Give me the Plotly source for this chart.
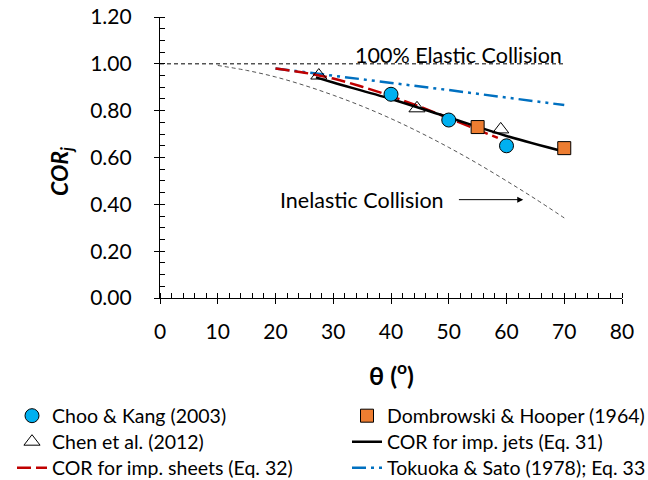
import plotly.graph_objects as go

# ---- data ----
choo_x = [40, 50, 60]
choo_y = [0.87, 0.76, 0.65]

domb_x = [55, 70]
domb_y = [0.73, 0.64]

chen_x = [27.5, 44.5, 59]
chen_y = [0.95, 0.81, 0.72]

jets_x = [27, 30, 40, 50, 60, 70]
jets_y = [0.942, 0.92, 0.85, 0.771, 0.692, 0.625]

sheets_x = [20, 25, 30, 35, 40, 45, 50, 55, 58.5]
sheets_y = [0.98, 0.962, 0.937, 0.902, 0.862, 0.817, 0.768, 0.718, 0.684]

toku_x = [20, 30, 40, 50, 60, 70]
toku_y = [0.98, 0.95, 0.919, 0.888, 0.856, 0.824]

elastic_x = [0, 70]
elastic_y = [1.0, 1.0]

inel_x = [10, 15, 20, 25, 30, 35, 40, 45, 50, 55, 60, 65, 70]
inel_y = [0.993, 0.972, 0.944, 0.908, 0.866, 0.819, 0.766, 0.707, 0.643, 0.574, 0.50, 0.423, 0.342]

x_ticks = [0, 10, 20, 30, 40, 50, 60, 70, 80]
y_ticks = [0.0, 0.2, 0.4, 0.6, 0.8, 1.0, 1.2]
y_ticklabels = ["0.00", "0.20", "0.40", "0.60", "0.80", "1.00", "1.20"]

FONT = "Lato"

# plot-area geometry (pixels) used for paper-coordinate placement of outside texts
L, R, T, B = 160, 26, 17, 182
W, H = 648 - L - R, 480 - T - B


def px_x(p):
    return (p - L) / W


def px_y(p):
    return (480 - B - p) / H


fig = go.Figure()

# reference curves (no legend)
fig.add_trace(go.Scatter(x=elastic_x, y=elastic_y, mode="lines",
                         line=dict(color="black", width=1, dash="4px,3px"),
                         showlegend=False, hoverinfo="skip"))
fig.add_trace(go.Scatter(x=inel_x, y=inel_y, mode="lines", line_shape="spline",
                         line=dict(color="#555555", width=1, dash="4px,3px"),
                         showlegend=False, hoverinfo="skip"))

# model lines
fig.add_trace(go.Scatter(x=toku_x, y=toku_y, mode="lines", name="Tokuoka &amp; Sato (1978); Eq. 33",
                         line=dict(color="#0070C0", width=2.5, dash="14px,5px,3px,5px,3px,5px"),
                         legend="legend6"))
fig.add_trace(go.Scatter(x=sheets_x, y=sheets_y, mode="lines", name="COR for imp. sheets (Eq. 32)",
                         line_shape="spline",
                         line=dict(color="#C00000", width=2.5, dash="14px,5px"),
                         legend="legend5"))
fig.add_trace(go.Scatter(x=jets_x, y=jets_y, mode="lines", name="COR for imp. jets (Eq. 31)",
                         line_shape="spline",
                         line=dict(color="black", width=2.5),
                         legend="legend4"))

# experimental points
fig.add_trace(go.Scatter(x=choo_x, y=choo_y, mode="markers", name="Choo &amp; Kang (2003)",
                         marker=dict(symbol="circle", size=14, color="#00B0F0",
                                     line=dict(color="black", width=1)),
                         legend="legend"))
fig.add_trace(go.Scatter(x=domb_x, y=domb_y, mode="markers", name="Dombrowski &amp; Hooper (1964)",
                         marker=dict(symbol="square", size=13, color="#ED7D31",
                                     line=dict(color="black", width=1)),
                         legend="legend2"))
fig.add_trace(go.Scatter(x=chen_x, y=chen_y, mode="markers", name="Chen et al. (2012)",
                         marker=dict(symbol="triangle-up-open", size=14, color="black",
                                     line=dict(color="black", width=1)),
                         legend="legend3"))

# dummy trace for overlay axes (crossing major ticks)
fig.add_trace(go.Scatter(x=[], y=[], xaxis="x2", yaxis="y2", showlegend=False, hoverinfo="skip"))

axis_common = dict(showgrid=False, zeroline=False, showline=True, linecolor="black", linewidth=1.3,
                   ticks="outside", ticklen=5, tickwidth=1.3, tickcolor="black",
                   tickfont=dict(family=FONT, size=21, color="black"))

leg_common = dict(orientation="v", xanchor="left", yanchor="middle",
                  font=dict(family=FONT, size=19.5, color="black"),
                  bgcolor="rgba(0,0,0,0)", itemwidth=30)

# legend symbol centre sits 20 px right of the legend's left edge
COL1, COL2 = px_x(32 - 20), px_x(367 - 20)
ROW1, ROW2, ROW3 = px_y(416), px_y(442), px_y(468)

fig.update_layout(
    width=648, height=480,
    margin=dict(l=L, r=R, t=T, b=B, autoexpand=False),
    plot_bgcolor="white", paper_bgcolor="white",
    font=dict(family=FONT, color="black"),
    xaxis=dict(range=[0, 80], tickvals=x_ticks, ticktext=[str(v) for v in x_ticks],
               ticklabelstandoff=10,
               minor=dict(ticks="inside", dtick=2, tick0=0, ticklen=5, tickwidth=1.3, tickcolor="black"),
               **axis_common),
    yaxis=dict(range=[0, 1.2], tickvals=y_ticks, ticktext=y_ticklabels,
               ticklabelstandoff=18,
               minor=dict(ticks="inside", dtick=0.05, tick0=0, ticklen=5, tickwidth=1.3, tickcolor="black"),
               **axis_common),
    xaxis2=dict(overlaying="x", anchor="y", side="bottom", range=[0, 80], tickvals=x_ticks,
                ticks="inside", ticklen=5, tickwidth=1.3, tickcolor="black",
                showticklabels=False, showgrid=False, zeroline=False, showline=False),
    yaxis2=dict(overlaying="y", anchor="x", side="left", range=[0, 1.2], tickvals=y_ticks,
                ticks="inside", ticklen=5, tickwidth=1.3, tickcolor="black",
                showticklabels=False, showgrid=False, zeroline=False, showline=False),
    legend=dict(x=COL1, y=ROW1, **leg_common),
    legend2=dict(x=COL2, y=ROW1, **leg_common),
    legend3=dict(x=COL1, y=ROW2, **leg_common),
    legend4=dict(x=COL2, y=ROW2, **leg_common),
    legend5=dict(x=COL1, y=ROW3, **leg_common),
    legend6=dict(x=COL2, y=ROW3, **leg_common),
    showlegend=True,
)

fig.add_annotation(x=70, y=1.0, xref="x", yref="y", text="100% Elastic Collision",
                   showarrow=False, xanchor="right", yanchor="bottom", yshift=-6,
                   font=dict(family=FONT, size=21.5, color="black"))
fig.add_annotation(x=34.9, y=0.42, xref="x", yref="y", text="Inelastic Collision",
                   showarrow=False, xanchor="center", yanchor="middle",
                   font=dict(family=FONT, size=21.5, color="black"))
fig.add_annotation(x=62.9, y=0.42, ax=51.5, ay=0.42, xref="x", yref="y", axref="x", ayref="y",
                   text="", showarrow=True, arrowhead=2, arrowsize=1.2, arrowwidth=1, arrowcolor="black")

fig.add_annotation(x=px_x(391), y=px_y(373), xref="paper", yref="paper",
                   text="<b>θ (<sup>o</sup>)</b>", showarrow=False, xanchor="center", yanchor="middle",
                   font=dict(family=FONT, size=25, color="black"))
fig.add_annotation(x=px_x(60), y=px_y(172), xref="paper", yref="paper",
                   text="<b><i>COR<sub>j</sub></i></b>", showarrow=False, textangle=-90,
                   xanchor="center", yanchor="middle",
                   font=dict(family=FONT, size=23, color="black"))

fig.write_html("out.html")
